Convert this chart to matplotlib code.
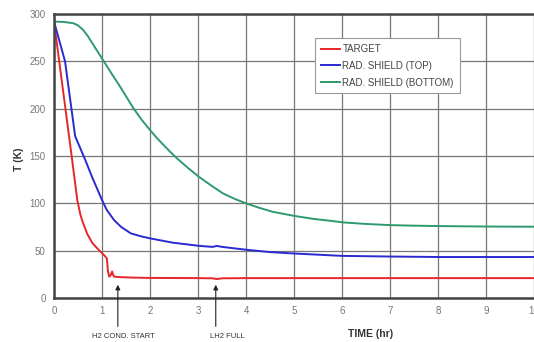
import matplotlib
matplotlib.use("Agg")
import matplotlib.pyplot as plt

plt.rcParams["font.family"] = ["Liberation Sans", "DejaVu Sans"]

# cooldown curves
target_t = [0, 0.37, 0.485, 0.55, 0.6, 0.69, 0.8, 0.9, 1.04, 1.1, 1.125, 1.15,
            1.18, 1.21, 1.235, 1.26, 1.4, 1.67, 2.0, 3.0, 3.3, 3.4, 3.5,
            4, 5, 6, 7, 8, 9, 10]
target_T = [292, 149, 103.5, 88, 80, 68, 58, 52.5, 45.4, 42, 28, 22.5,
            24, 28, 24, 22.5, 22, 21.5, 21.2, 21, 20.8, 20, 20.8,
            21, 21, 21, 21, 21, 21, 21]

top_t = [0, 0.05, 0.23, 0.44, 0.65, 0.8, 1.0, 1.1, 1.25, 1.4, 1.6, 1.8, 2.0,
         2.48, 3.04, 3.3, 3.4, 3.5, 4.0, 4.5, 5.0, 6.0, 7.0, 8.0, 9.0, 10.0]
top_T = [292, 283, 250, 171, 146, 127, 103.5, 93, 82.4, 75, 68.3, 65.3, 63,
         58.4, 55, 54, 55, 54, 51, 48.5, 47, 44.5, 43.8, 43.3, 43.3, 43.3]

bottom_t = [0, 0.2, 0.4, 0.5, 0.61, 0.7, 0.8, 0.9, 1.02, 1.2, 1.38, 1.52, 1.66,
            1.83, 2.0, 2.14, 2.28, 2.42, 2.56, 2.8, 3.02, 3.27, 3.52, 3.76, 4.0,
            4.28, 4.56, 5.02, 5.4, 5.75, 6.04, 6.5, 7.0, 7.5, 8.0, 9.0, 10.0]
bottom_T = [292, 291.6, 290.3, 288, 283, 277, 269, 261, 251.5, 237, 223, 211.5, 200,
            188, 177.5, 169.2, 161.7, 154.5, 147.6, 137, 128, 119, 110.5, 104.8, 100,
            95.2, 91, 86.6, 83.6, 81.6, 79.8, 78.2, 77, 76.4, 76, 75.5, 75.3]

labels = ["TARGET", "RAD. SHIELD (TOP)", "RAD. SHIELD (BOTTOM)"]
colors = ["#e8262a", "#2a2ad0", "#2e9a6e"]

fig = plt.figure(figsize=(5.34, 3.42), dpi=100)
ax = fig.add_axes([54 / 534, 44 / 342, 480 / 534, 284 / 342])

ax.plot(target_t, target_T, color=colors[0], lw=1.4, label=labels[0])
ax.plot(top_t, top_T, color=colors[1], lw=1.4, label=labels[1])
ax.plot(bottom_t, bottom_T, color=colors[2], lw=1.4, label=labels[2])

ax.set_xlim(0, 10)
ax.set_ylim(0, 300)
ax.set_xticks(range(0, 11))
ax.set_yticks(range(0, 301, 50))
ax.grid(True, color="#777777", lw=0.9)
ax.set_axisbelow(True)
ax.tick_params(length=0, labelsize=7, labelcolor="#777777", pad=6)
for side in ["top", "left", "bottom"]:
    ax.spines[side].set_linewidth(1.8)
    ax.spines[side].set_color("#444444")
ax.spines["right"].set_visible(False)

ax.set_xlabel("TIME (hr)", fontsize=7.5, fontweight="bold", color="#333333")
ax.xaxis.set_label_coords(0.66, -0.11)
ax.set_ylabel("T (K)", fontsize=7.5, fontweight="bold", color="#333333")
ax.yaxis.set_label_coords(-0.062, 0.49)

leg = ax.legend(loc="upper left", bbox_to_anchor=(0.544, 0.915), borderaxespad=0,
                fontsize=7, fancybox=False, framealpha=1, edgecolor="#999999",
                handlelength=2.0, handletextpad=0.2, borderpad=0.6, labelspacing=0.7)
leg.get_frame().set_linewidth(0.8)
for txt in leg.get_texts():
    txt.set_color("#444444")

arrow = dict(arrowstyle="-|>", color="#222222", lw=0.8, mutation_scale=7, shrinkA=0, shrinkB=0)
for x_arrow, x_text, note in [(1.33, 1.44, "H2 COND. START"), (3.37, 3.62, "LH2 FULL")]:
    ax.annotate("", xy=(x_arrow, 14), xytext=(x_arrow, -30), arrowprops=arrow,
                annotation_clip=False)
    ax.text(x_text, -37, note, ha="center", va="top", fontsize=5.5, color="#333333",
            clip_on=False)

fig.savefig("out.png", dpi=100)
